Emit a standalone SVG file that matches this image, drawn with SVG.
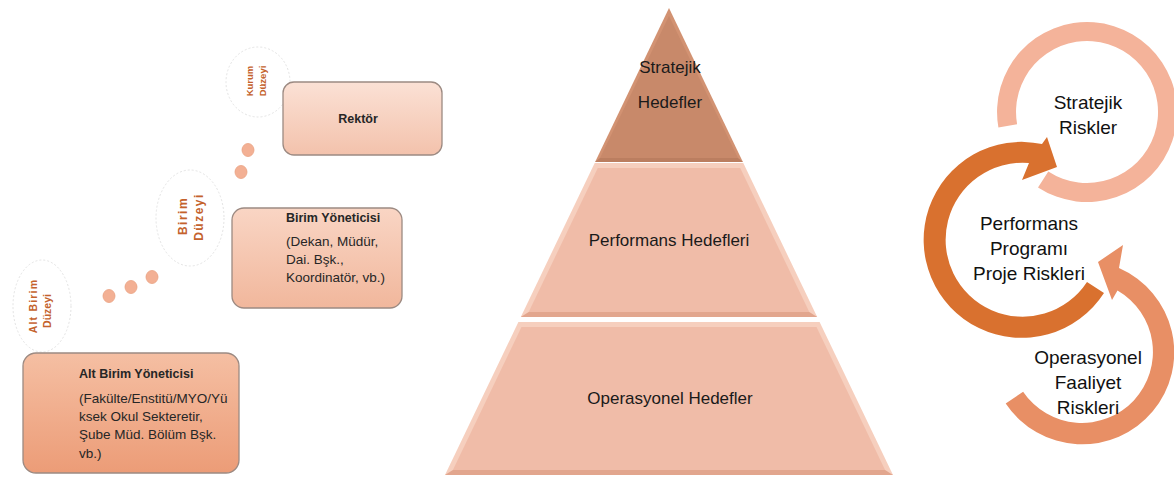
<svg xmlns="http://www.w3.org/2000/svg" width="1174" height="477" viewBox="0 0 1174 477">
<defs>
<linearGradient id="gRek" x1="0" y1="0" x2="0" y2="1"><stop offset="0" stop-color="#fbe1d5"/><stop offset="1" stop-color="#f3c2ac"/></linearGradient>
<linearGradient id="gBir" x1="0" y1="0" x2="0" y2="1"><stop offset="0" stop-color="#f9d5c4"/><stop offset="1" stop-color="#f1b79c"/></linearGradient>
<linearGradient id="gAlt" x1="0" y1="0" x2="0" y2="1"><stop offset="0" stop-color="#f5bfa3"/><stop offset="1" stop-color="#ec9c77"/></linearGradient>
<style>
.box{stroke:#9c8a82;stroke-width:1.3}
.lvl{fill:none;stroke:#e4e4e4;stroke-width:1;stroke-dasharray:2 2}
.vt{font-family:"Liberation Sans",Arial,sans-serif;font-weight:bold;fill:#c4622c;text-anchor:middle}
.bt{font-family:"Liberation Sans",Arial,sans-serif;font-weight:bold;font-size:12.5px;fill:#262626}
.tx{font-family:"Liberation Sans",Arial,sans-serif;font-size:13.5px;fill:#262626}
.py{font-family:"Liberation Sans",Arial,sans-serif;font-size:17px;fill:#1a1a1a;text-anchor:middle}
.rk{font-family:"Liberation Sans",Arial,sans-serif;font-size:19px;fill:#111;text-anchor:middle}
.dot{fill:#f3b094;stroke:#eaa283;stroke-width:0.8}
.bev{fill:#f6cfbe}
.mid{fill:#f0bca8}
.sh{fill:#e2a68e}
</style>
</defs>

<g id="kurum-duzeyi">
<ellipse class="lvl" cx="258" cy="82" rx="32" ry="35"/>
<text class="vt" font-size="9.5" transform="translate(253,81) rotate(-90)">Kurum</text>
<text class="vt" font-size="9.5" transform="translate(266,81) rotate(-90)">Düzeyi</text>
</g>
<g id="birim-duzeyi">
<ellipse class="lvl" cx="190" cy="218" rx="34" ry="48"/>
<text class="vt" font-size="12" letter-spacing="1.5" transform="translate(187,216) rotate(-90)">Birim</text>
<text class="vt" font-size="12" letter-spacing="1.5" transform="translate(203,217) rotate(-90)">Düzeyi</text>
</g>
<g id="alt-birim-duzeyi">
<ellipse class="lvl" cx="42" cy="306" rx="29" ry="46"/>
<text class="vt" font-size="10.5" letter-spacing="1.2" transform="translate(37,306) rotate(-90)">Alt Birim</text>
<text class="vt" font-size="10.5" transform="translate(51,311) rotate(-90)">Düzeyi</text>
</g>

<g id="connectors">
<ellipse class="dot" cx="248" cy="150" rx="6" ry="6.5"/>
<ellipse class="dot" cx="241" cy="172" rx="6" ry="6.5"/>
<ellipse class="dot" cx="152" cy="277" rx="6" ry="6.5"/>
<ellipse class="dot" cx="131" cy="287" rx="6" ry="6.5"/>
<ellipse class="dot" cx="109" cy="296" rx="6" ry="6.5"/>
</g>

<g id="rektor">
<rect class="box" x="283" y="82" width="159" height="73" rx="11" fill="url(#gRek)"/>
<text class="bt" x="358" y="123" font-size="15" text-anchor="middle">Rektör</text>
</g>
<g id="birim-yoneticisi">
<rect class="box" x="232" y="208" width="170" height="100" rx="12" fill="url(#gBir)"/>
<text class="bt" x="286" y="222">Birim Yöneticisi</text>
<text class="tx" x="286" y="246">(Dekan, Müdür,</text>
<text class="tx" x="286" y="264">Dai. Bşk.,</text>
<text class="tx" x="286" y="282">Koordinatör, vb.)</text>
</g>
<g id="alt-birim-yoneticisi">
<rect class="box" x="23" y="353" width="216" height="120" rx="13" fill="url(#gAlt)"/>
<text class="bt" x="79" y="378">Alt Birim Yöneticisi</text>
<text class="tx" x="79" y="403">(Fakülte/Enstitü/MYO/Yü</text>
<text class="tx" x="79" y="421">ksek Okul Sekteretir,</text>
<text class="tx" x="79" y="439">Şube Müd. Bölüm Bşk.</text>
<text class="tx" x="79" y="458">vb.)</text>
</g>

<g id="stratejik-hedefler">
<polygon points="669,8 742.9,162 595.1,162" fill="#d29272"/>
<polygon points="669,16 738,158 600,158" fill="#c8896a"/>
<polygon points="595.1,162 742.9,162 738,158 600,158" fill="#bb7e60"/>
<text class="py" x="670" y="73">Stratejik</text>
<text class="py" x="670" y="108">Hedefler</text>
</g>
<g id="performans-hedefleri">
<polygon class="bev" points="594.7,163 743.3,163 817.2,317 520.8,317"/>
<polygon class="mid" points="597.8,168 740.2,168 809.3,312 528.7,312"/>
<polygon class="sh" points="520.8,317 817.2,317 809.3,312 528.7,312"/>
<text class="py" x="669" y="246">Performans Hedefleri</text>
</g>
<g id="operasyonel-hedefler">
<polygon class="bev" points="518.4,322 819.6,322 893,475 445,475"/>
<polygon class="mid" points="521.5,327 816.5,327 885.1,470 452.9,470"/>
<polygon class="sh" points="445,475 893,475 885.1,470 452.9,470"/>
<text class="py" x="670" y="404">Operasyonel Hedefler</text>
</g>

<g id="stratejik-riskler">
<path fill="#f4b39a" d="M998.4,127.6 A90,90 0 1 1 1038.0,187.5 L1048.3,171.5 A71,71 0 1 0 1017.1,124.3 Z"/>
<text class="rk" x="1088" y="109">Stratejik</text>
<text class="rk" x="1088" y="134">Riskler</text>
</g>
<g id="performans-programi">
<path fill="#d9712f" d="M1104,293 A98,98 0 1 1 1042,144 L1047,137 L1057,167 L1022,180 L1029,163 A77,77 0 1 0 1087,282 Z"/>
<text class="rk" x="1029" y="230">Performans</text>
<text class="rk" x="1029" y="255">Programı</text>
<text class="rk" x="1029" y="280">Proje Riskleri</text>
</g>
<g id="operasyonel-faaliyet">
<path fill="#e88f65" d="M1005.7,403.4 A92,92 0 1 0 1119,268 L1123,245 L1098,262 L1112,300 L1117.5,290.5 A71,71 0 1 1 1023.1,391.7 Z"/>
<text class="rk" x="1088" y="364">Operasyonel</text>
<text class="rk" x="1088" y="389">Faaliyet</text>
<text class="rk" x="1088" y="414">Riskleri</text>
</g>
</svg>
